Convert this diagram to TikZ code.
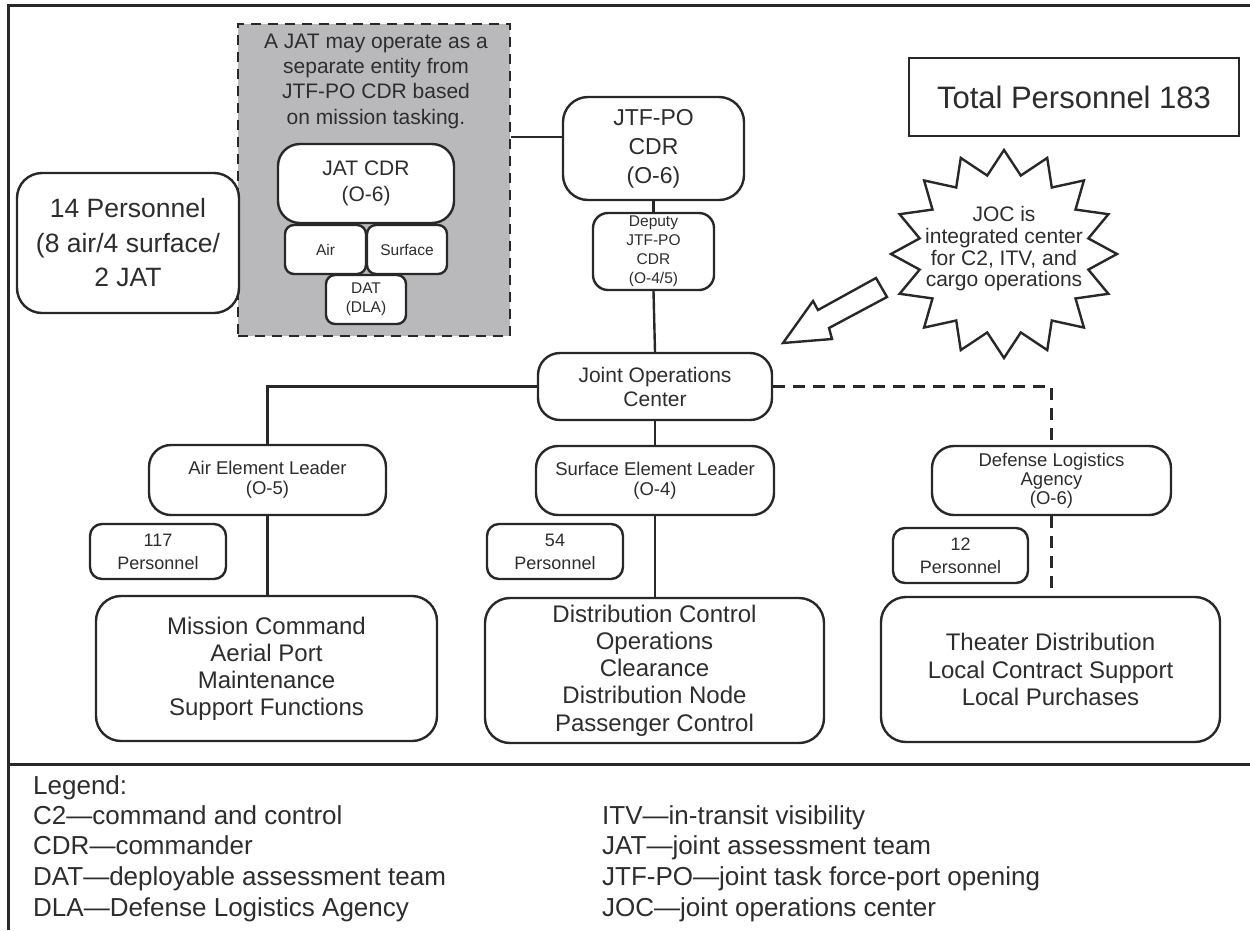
\documentclass[tikz,border=0pt]{standalone}
\usepackage{fontspec}
\setmainfont{Liberation Sans}
\usetikzlibrary{calc}
\definecolor{linec}{RGB}{40,40,40}
\definecolor{txtc}{RGB}{45,45,45}
\definecolor{grayfill}{RGB}{185,185,188}
\newcommand{\fsz}[2]{\fontsize{#1}{#2}\selectfont}
\begin{document}
\begin{tikzpicture}[x=1pt,y=-1pt,
  box/.style={draw=linec, line width=2.4pt, fill=white, align=center, inner sep=0pt, text=txtc},
  link/.style={draw=linec, line width=2.4pt},
  dlink/.style={link, dash pattern=on 12pt off 8pt},
  leg/.style={anchor=base west, inner sep=0pt, text=txtc, font=\fsz{26}{30}}]
\useasboundingbox (0,0) rectangle (1250,930);
% frame
\draw[line width=3pt, linec] (1250,5) -- (8,5) -- (8,930);
\draw[line width=3pt, linec] (8,764) -- (1250,764);

% JAT group
\node[box, fill=grayfill, rounded corners=0pt, dash pattern=on 10pt off 7pt, line width=2.8pt,
  minimum width=272pt, minimum height=312pt] (jatbox) at (374,180) {};
\node[align=center, inner sep=0pt, text=txtc, font=\fsz{21}{25.3}] (jatnote) at (376,81)
  {A JAT may operate as a\\separate entity from\\JTF-PO CDR based\\on mission tasking.};
\node[box, rounded corners=22pt, minimum width=176pt, minimum height=79pt, font=\fsz{21}{26}] (jatcdr) at (366,183.5) {JAT CDR\\(O-6)};
\node[box, rounded corners=9pt, minimum width=81pt, minimum height=49pt, font=\fsz{15.5}{19}] (air) at (325.5,249.5) {Air};
\node[box, rounded corners=9pt, minimum width=80pt, minimum height=49pt, font=\fsz{15.5}{19}] (surf) at (407,249.5) {Surface};
\node[box, rounded corners=9pt, minimum width=80pt, minimum height=49pt, font=\fsz{15.5}{19.5}] (dat) at (366,299.5) {DAT\\(DLA)};

\node[box, rounded corners=25pt, minimum width=222pt, minimum height=140pt, font=\fsz{26.5}{34.5}] (p14) at (128,243) {14 Personnel\\(8 air/4 surface/\\2 JAT};

% command chain
\node[box, rounded corners=25pt, minimum width=181pt, minimum height=103pt, font=\fsz{23}{29}] (jtf) at (653.5,148.5) {JTF-PO\\CDR\\(O-6)};
\node[box, rounded corners=15pt, minimum width=121pt, minimum height=77pt, font=\fsz{15.5}{19}] (dep) at (653.5,251.5) {Deputy\\JTF-PO\\CDR\\(O-4/5)};
\node[box, rounded corners=22pt, minimum width=234pt, minimum height=67pt, font=\fsz{21}{24}] (joc) at (655,386.5) {Joint Operations\\Center};
\node[box, rounded corners=0pt, line width=2.2pt, minimum width=330pt, minimum height=78pt, font=\fsz{31}{36}] (total) at (1074,97) {Total Personnel 183};

% elements
\node[box, rounded corners=22pt, minimum width=237pt, minimum height=70pt, font=\fsz{18.5}{20}] (ael) at (267.5,480) {Air Element Leader\\(O-5)};
\node[box, rounded corners=22pt, minimum width=238pt, minimum height=69pt, font=\fsz{18.5}{20}] (sel) at (655,480.5) {Surface Element Leader\\(O-4)};
\node[box, rounded corners=22pt, minimum width=239pt, minimum height=69pt, font=\fsz{18.5}{19}] (dla) at (1051.5,480.5) {Defense Logistics\\Agency\\(O-6)};
\node[box, rounded corners=12pt, minimum width=136pt, minimum height=55pt, font=\fsz{18}{23}] (p117) at (158,551.5) {117\\Personnel};
\node[box, rounded corners=12pt, minimum width=136pt, minimum height=55pt, font=\fsz{18}{23}] (p54) at (555,551.5) {54\\Personnel};
\node[box, rounded corners=12pt, minimum width=135pt, minimum height=55pt, font=\fsz{18}{23}] (p12) at (960.5,555.5) {12\\Personnel};

\node[box, rounded corners=25pt, minimum width=341pt, minimum height=145pt, font=\fsz{24}{27}] (mis) at (266.5,668.5)
  {Mission Command\\Aerial Port\\Maintenance\\Support Functions};
\node[box, rounded corners=25pt, minimum width=339pt, minimum height=145pt, font=\fsz{24}{27.2}] (dist) at (654.5,670.5)
  {Distribution Control\\Operations\\Clearance\\Distribution Node\\Passenger Control};
\node[box, rounded corners=25pt, minimum width=339pt, minimum height=145pt, font=\fsz{24}{27.5}] (thea) at (1050.5,669.5)
  {Theater Distribution\\Local Contract Support\\Local Purchases};

% connectors
\coordinate (jl) at ([yshift=11.5pt]jtf.west);
\draw[link] (jl) -- (jl -| jatbox.east);
\draw[link] (jtf.south) -- (dep.north);
\draw[link] (dep.south) -- (joc.north);
\draw[link] (joc.west) -| (ael.north);
\draw[link] (joc.south) -- (sel.north);
\draw[dlink] (joc.east) -| (dla.north);
\draw[link] (ael.south) -- (mis.north -| ael.south);
\draw[link] (sel.south) -- (dist.north -| sel.south);
\draw[dlink] (dla.south) -- (thea.north -| dla.south);

% starburst note
\draw[link, fill=white, line join=miter]
  plot[samples at={0,1,...,31}] ({1004+ifthenelse(mod(\x,2)==0,113,86)*cos(90+11.25*\x)},{254+ifthenelse(mod(\x,2)==0,104,80)*sin(90+11.25*\x)}) -- cycle;
\node[align=center, inner sep=0pt, text=txtc, font=\fsz{21}{21.7}] (jocnote) at (1004,249)
  {JOC is\\integrated center\\for C2, ITV, and\\cargo operations};
% hollow arrow
\draw[link, fill=white, line join=miter] (783,343) -- (813,301) -- (818,310) -- (876,278) -- (887,297) -- (829,328) -- (832,339) -- cycle;

% legend
\node[leg] (lg0) at (33,794) {Legend:};
\node[leg] (lg1) at (33,824) {C2—command and control};
\node[leg] (lg2) at (33,854) {CDR—commander};
\node[leg] (lg3) at (33,885) {DAT—deployable assessment team};
\node[leg] (lg4) at (33,916) {DLA—Defense Logistics Agency};
\node[leg] (lg5) at (602,824) {ITV—in-transit visibility};
\node[leg] (lg6) at (602,854) {JAT—joint assessment team};
\node[leg] (lg7) at (602,885) {JTF-PO—joint task force-port opening};
\node[leg] (lg8) at (602,916) {JOC—joint operations center};
\end{tikzpicture}
\end{document}
